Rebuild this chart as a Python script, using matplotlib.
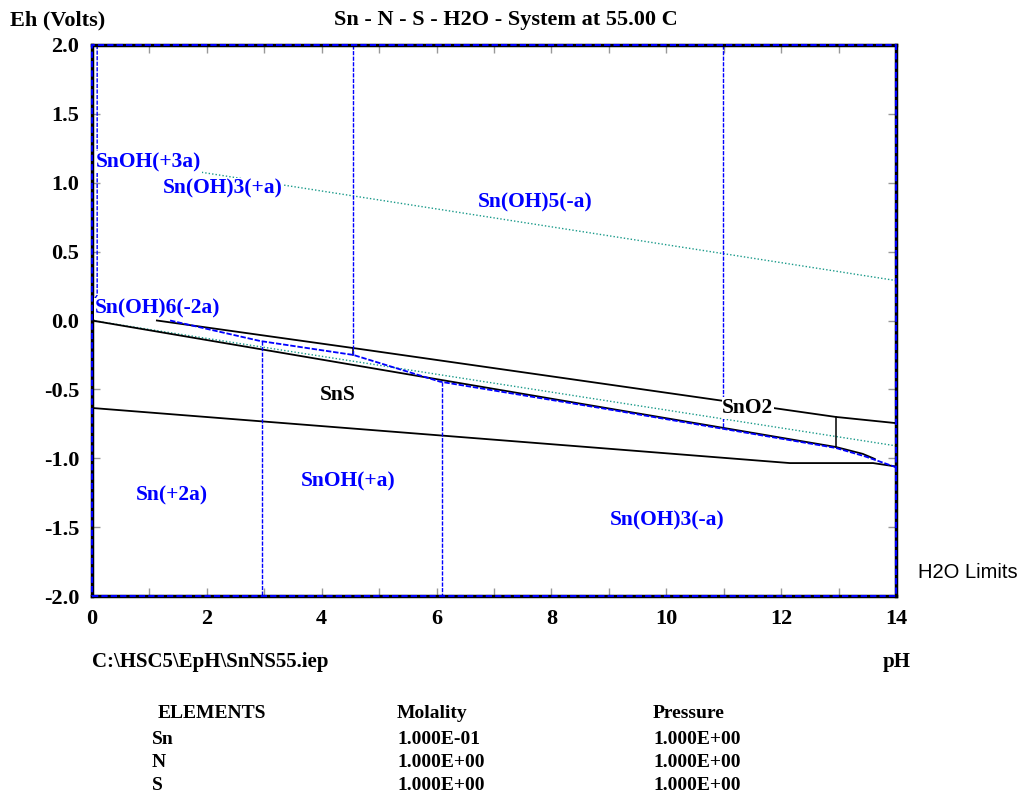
import matplotlib.pyplot as plt
import numpy as np

# Eh-pH diagram, Sn - N - S - H2O at 55 C
SERIF = 'Liberation Serif'

# water stability limits (teal dotted)
o2_ph = [0.0, 14.0]
o2_eh = [1.20, 0.29]
h2_ph = [0.0, 14.0]
h2_eh = [0.00, -0.91]

# black boundaries
upper_ph = [1.13, 4.55, 12.95, 14.0]
upper_eh = [0.00, -0.20, -0.70, -0.745]
lower_ph = [0.0, 6.06, 8.85, 12.95, 13.42, 13.63]
lower_eh = [0.00, -0.43, -0.628, -0.918, -0.968, -1.005]
bottom_ph = [0.0, 8.85, 12.15, 13.6, 14.0]
bottom_eh = [-0.635, -0.926, -1.035, -1.035, -1.06]
step_ph = [12.95, 12.95]
step_eh = [-0.70, -0.918]

# blue boundaries (dashed)
blue_slope_ph = [1.36, 2.93, 4.55, 6.06, 8.85, 12.95, 13.45, 14.0]
blue_slope_eh = [0.00, -0.149, -0.25, -0.444, -0.635, -0.925, -0.985, -1.065]
blue_vert = [
    ([0.09, 0.09, 0.02], [2.0, 0.185, 0.14]),
    ([4.55, 4.55], [2.0, -0.25]),
    ([10.99, 10.99], [2.0, -0.78]),
    ([2.96, 2.96], [-0.149, -2.0]),
    ([6.09, 6.09], [-0.444, -2.0]),
]

# region labels: text, pH, Eh, colour, alignment
labels = [
    ('SnOH(+3a)', 0.07, 1.15, 'blue', 'left'),
    ('Sn(OH)3(+a)', 2.27, 0.96, 'blue', 'center'),
    ('Sn(OH)5(-a)', 7.71, 0.86, 'blue', 'center'),
    ('Sn(OH)6(-2a)', 0.05, 0.085, 'blue', 'left'),
    ('SnS', 4.27, -0.54, 'black', 'center'),
    ('SnO2', 11.42, -0.635, 'black', 'center'),
    ('Sn(+2a)', 1.39, -1.27, 'blue', 'center'),
    ('SnOH(+a)', 4.46, -1.17, 'blue', 'center'),
    ('Sn(OH)3(-a)', 10.01, -1.455, 'blue', 'center'),
]

x_ticks = list(range(0, 15))
y_ticks = [-2.0, -1.5, -1.0, -0.5, 0.0, 0.5, 1.0, 1.5, 2.0]

elements = ['Sn', 'N', 'S']
molality = ['1.000E-01', '1.000E+00', '1.000E+00']
pressure = ['1.000E+00', '1.000E+00', '1.000E+00']

fig = plt.figure(figsize=(10.25, 7.96), dpi=100)
ax = fig.add_axes([92 / 1025, 1 - 596 / 796, 804 / 1025, 551 / 796])
ax.set_xlim(0, 14)
ax.set_ylim(-2, 2)

teal = '#1a9a8a'
ax.plot(o2_ph, o2_eh, color=teal, ls=(0, (1, 1.5)), lw=1)
ax.plot(h2_ph, h2_eh, color=teal, ls=(0, (1, 1.5)), lw=1)

ax.plot(upper_ph, upper_eh, color='black', lw=1.3)
ax.plot(lower_ph, lower_eh, color='black', lw=1.3)
ax.plot(bottom_ph, bottom_eh, color='black', lw=1.3)
ax.plot(step_ph, step_eh, color='black', lw=1.1)
ax.plot([4.55, 4.55], [-0.20, -0.25], color='black', lw=1.1)

ax.plot(blue_slope_ph, blue_slope_eh, color='blue', ls=(0, (3, 1)), lw=1.3)
for xs, ys in blue_vert:
    ax.plot(xs, ys, color='blue', ls=(0, (3, 1)), lw=1.0)

# labels sit on a white box, hiding the lines underneath
for txt, x, y, col, ha in labels:
    ax.text(x, y, txt, color=col, ha=ha, va='center', fontsize=15.5,
            fontweight='bold', family=SERIF, zorder=5,
            bbox=dict(facecolor='white', edgecolor='none', pad=0.5))

# frame: black with blue dashes over it
for s in ax.spines.values():
    s.set_linewidth(2.5)
    s.set_color('black')
ax.plot([0, 14, 14, 0, 0], [-2, -2, 2, 2, -2], color='blue', lw=1.5,
        ls=(0, (3, 1.5)), clip_on=False, zorder=6)

ax.set_xticks(x_ticks)
ax.set_xticklabels([str(v) if v % 2 == 0 else '' for v in x_ticks])
ax.set_yticks(y_ticks)
ax.set_yticklabels([f'{v:.1f}' for v in y_ticks])
ax.tick_params(direction='in', length=6, width=1, color='#999999',
               top=True, right=True, labelsize=16, pad=9)
for lab in ax.get_xticklabels() + ax.get_yticklabels():
    lab.set_family(SERIF)
    lab.set_fontweight('bold')

big = dict(family=SERIF, fontweight='bold', fontsize=16)
bold = dict(family=SERIF, fontweight='bold', fontsize=15)
small = dict(family=SERIF, fontweight='bold', fontsize=14)
fig.text(10 / 1025, 1 - 20 / 796, 'Eh (Volts)', ha='left', va='center', **big)
fig.text(506 / 1025, 1 - 20 / 796, 'Sn - N - S - H2O - System at 55.00 C',
         ha='center', va='center', **big)
fig.text(918 / 1025, 1 - 573 / 796, 'H2O Limits', ha='left', va='center',
         family='Liberation Sans', fontsize=14.5)
fig.text(92 / 1025, 1 - 662 / 796, 'C:\\HSC5\\EpH\\SnNS55.iep', ha='left',
         va='center', **bold)
fig.text(911 / 1025, 1 - 662 / 796, 'pH', ha='right', va='center', **bold)

fig.text(158 / 1025, 1 - 714 / 796, 'ELEMENTS', ha='left', va='center', **small)
fig.text(397 / 1025, 1 - 714 / 796, 'Molality', ha='left', va='center', **small)
fig.text(653 / 1025, 1 - 714 / 796, 'Pressure', ha='left', va='center', **small)
for i, (el, m, p) in enumerate(zip(elements, molality, pressure)):
    y = 1 - (739 + 23.5 * i) / 796
    fig.text(152 / 1025, y, el, ha='left', va='center', **small)
    fig.text(397 / 1025, y, m, ha='left', va='center', **small)
    fig.text(653 / 1025, y, p, ha='left', va='center', **small)

fig.savefig('out.png', dpi=100)
